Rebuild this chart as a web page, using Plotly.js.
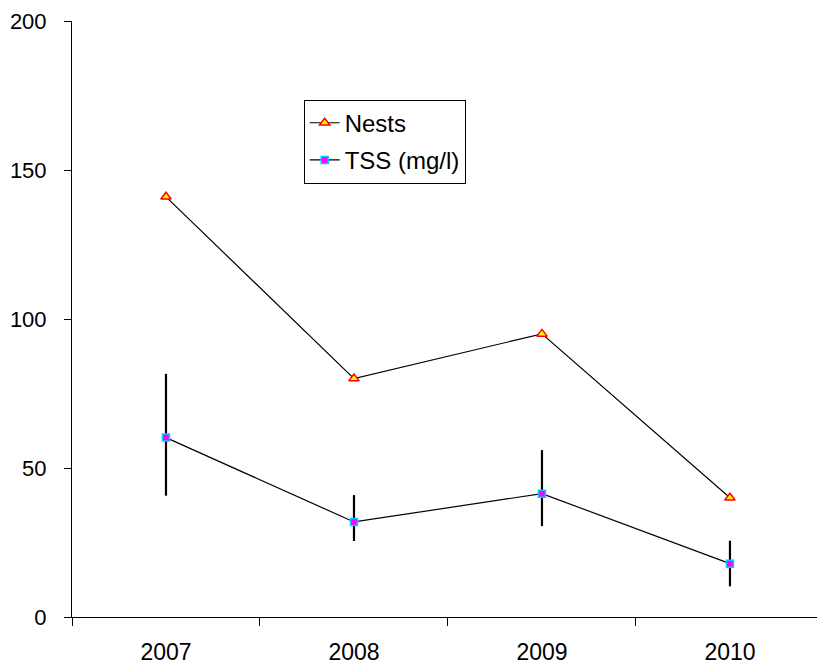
<!DOCTYPE html>
<html>
<head>
<meta charset="utf-8">
<script src="https://cdn.plot.ly/plotly-3.0.1.min.js"></script>
<style>html,body{margin:0;padding:0;background:#fff;}#chart{width:817px;height:666px;}</style>
</head>
<body>
<div id="chart"></div>
<script>
const years = ["2007", "2008", "2009", "2010"];
const nests = [141, 80, 95, 40];
const tss = [60.2, 31.9, 41.4, 17.9];
const tssErrPlus = [21.4, 9.0, 14.6, 7.7];
const tssErrMinus = [19.5, 6.4, 10.9, 7.6];
const yTicks = [0, 50, 100, 150, 200];

const traces = [
  {
    x: years, y: nests, name: "Nests", type: "scatter", mode: "lines+markers",
    legendgroup: "a",
    line: {color: "#000", width: 1.2},
    marker: {symbol: "triangle-up", size: 9, color: "#ffff00", line: {color: "#ff0000", width: 1.5}}
  },
  {
    x: years, y: tss, name: "TSS (mg/l)", type: "scatter", mode: "lines+markers",
    legendgroup: "b",
    line: {color: "#000", width: 1.2},
    marker: {symbol: "square", size: 7, color: "#ff00ff", line: {color: "#00ccff", width: 1.5}},
    error_y: {type: "data", symmetric: false, array: tssErrPlus, arrayminus: tssErrMinus,
              color: "#000", thickness: 2.2, width: 0}
  }
];

const layout = {
  width: 817, height: 666,
  margin: {l: 72, r: 0, t: 21, b: 49, pad: 0},
  paper_bgcolor: "#fff", plot_bgcolor: "#fff",
  showlegend: true,
  font: {family: "Liberation Sans, Arial, sans-serif", color: "#000"},
  xaxis: {
    type: "category", range: [-0.5, 3.463],
    showgrid: false, zeroline: false,
    showline: true, linecolor: "#000", linewidth: 1,
    ticks: "outside", ticklen: 8, tickcolor: "#000", tickwidth: 1,
    tickson: "boundaries",
    tickfont: {family: "Liberation Sans, Arial, sans-serif", size: 23, color: "#000"},
    ticklabelstandoff: 14
  },
  yaxis: {
    range: [0, 200], tickvals: yTicks, ticktext: yTicks.map(String),
    showgrid: false, zeroline: false,
    showline: true, linecolor: "#000", linewidth: 1,
    ticks: "outside", ticklen: 7, tickcolor: "#000", tickwidth: 1,
    tickfont: {family: "Liberation Sans, Arial, sans-serif", size: 22, color: "#000"},
    ticklabelstandoff: 13
  },
  legend: {
    x: 0.311, y: 0.868, xanchor: "left", yanchor: "top",
    bgcolor: "#fff", bordercolor: "#000", borderwidth: 1,
    font: {family: "Liberation Sans, Arial, sans-serif", size: 24, color: "#000"},
    traceorder: "grouped", tracegroupgap: 3
  }
};

Plotly.newPlot("chart", traces, layout, {displayModeBar: false, staticPlot: true});
</script>
</body>
</html>
